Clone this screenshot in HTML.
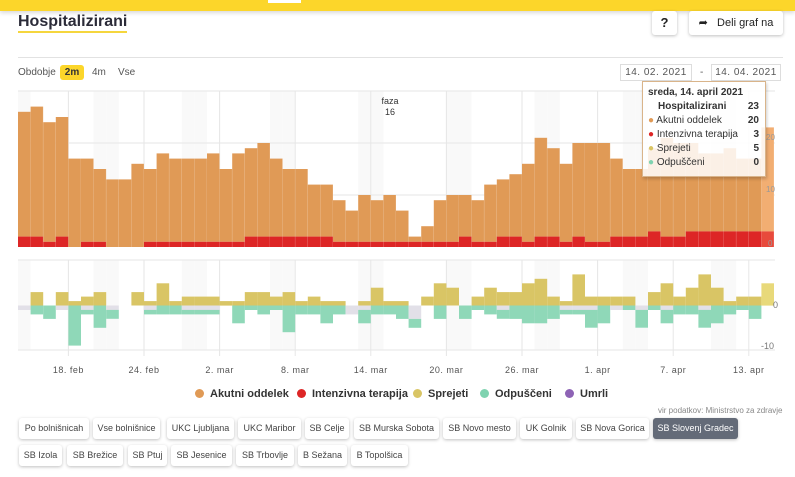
<!DOCTYPE html>
<html><head><meta charset="utf-8"><style>
*{margin:0;padding:0;box-sizing:border-box}
body{width:795px;height:477px;background:#fff;font-family:"Liberation Sans","DejaVu Sans",sans-serif;position:relative;overflow:hidden;color:#333}
.a{position:absolute}
.btn{position:absolute;height:21px;border-radius:3px;background:#fff;box-shadow:0 1px 3px rgba(0,0,0,.25);font-size:9px;color:#444;line-height:21px;text-align:center;white-space:nowrap;overflow:hidden}
.lg{position:absolute;top:388px;font-size:11px;font-weight:bold;color:#333;white-space:nowrap}
.lg i{display:inline-block;width:9px;height:9px;border-radius:50%;margin-right:6px;vertical-align:-1px}
.tt div{position:relative;height:14px}
</style></head><body>
<div class="a" style="left:0;top:0;width:795px;height:11px;background:#fcd62a;box-shadow:0 2px 4px rgba(0,0,0,.15)"></div>
<div class="a" style="left:268px;top:0;width:33px;height:3px;background:#fff"></div>
<div class="a" style="left:18px;top:13px;font-size:16px;font-weight:bold;color:#2b2b38;border-bottom:2px solid #f5d63d;line-height:18px">Hospitalizirani</div>
<div class="btn" style="left:652px;top:11px;width:25px;height:24px;line-height:24px;font-weight:bold;font-size:13px;color:#222">?</div>
<div class="btn" style="left:689px;top:11px;width:94px;height:24px;line-height:24px;font-size:11px;color:#222">➦&nbsp;&nbsp; Deli graf na</div>
<div class="a" style="left:18px;top:57px;width:765px;height:1px;background:#e2e2e2"></div>
<div class="a" style="left:18px;top:67px;font-size:10px;color:#555">Obdobje</div>
<div class="a" style="left:60px;top:65px;width:24px;height:15px;background:#fcd62a;border-radius:3px;font-size:10px;font-weight:bold;text-align:center;line-height:15px">2m</div>
<div class="a" style="left:92px;top:67px;font-size:10px;color:#555">4m</div>
<div class="a" style="left:118px;top:67px;font-size:10px;color:#555">Vse</div>
<div class="a" style="left:620px;top:64px;width:72px;height:17px;border:1px solid #ddd;font-size:10px;color:#555;text-align:center;line-height:15px;letter-spacing:.5px">14. 02. 2021</div>
<div class="a" style="left:700px;top:67px;font-size:10px;color:#555">-</div>
<div class="a" style="left:711px;top:64px;width:70px;height:17px;border:1px solid #ddd;font-size:10px;color:#555;text-align:center;line-height:15px;letter-spacing:.5px">14. 04. 2021</div>
<svg class="a" style="left:0;top:0" width="795" height="477" id="s"></svg>
<div class="a tt" style="left:642px;top:81px;width:124px;height:96px;background:rgba(255,255,255,.85);border:1px solid #d9b48a;box-shadow:1px 2px 3px rgba(0,0,0,.2);font-size:10px;padding:5px 6px 0 5px;color:#333">
<div style="font-weight:bold">sreda, 14. april 2021</div>
<div style="font-weight:bold;padding-left:10px">Hospitalizirani<span style="position:absolute;right:0">23</span></div>
<div><span style="color:#e09a56">●</span> Akutni oddelek<b style="position:absolute;right:0">20</b></div>
<div><span style="color:#dd2626">●</span> Intenzivna terapija<b style="position:absolute;right:0">3</b></div>
<div><span style="color:#d9c565">●</span> Sprejeti<b style="position:absolute;right:0">5</b></div>
<div><span style="color:#7fd3b0">●</span> Odpuščeni<b style="position:absolute;right:0">0</b></div>
</div>
<div class="lg" style="left:195px"><i style="background:#e09a56"></i>Akutni oddelek</div>
<div class="lg" style="left:297px"><i style="background:#dd2626"></i>Intenzivna terapija</div>
<div class="lg" style="left:413px"><i style="background:#d9c565"></i>Sprejeti</div>
<div class="lg" style="left:480px"><i style="background:#7fd3b0"></i>Odpuščeni</div>
<div class="lg" style="left:565px"><i style="background:#8e63b5"></i>Umrli</div>
<div class="a" style="left:658px;top:406px;font-size:8px;color:#888">vir podatkov: Ministrstvo za zdravje</div>
<div id="b"></div>
<script>
var s=document.getElementById('s'),h='';
function r(x,y,w,hh,c){if(hh<=0)return;h+='<rect x="'+x.toFixed(1)+'" y="'+y.toFixed(1)+'" width="'+w.toFixed(1)+'" height="'+hh.toFixed(1)+'" fill="'+c+'"/>';}
var W=12.6,X0=18;
for(var i=0;i<60;i++){var d=(i+6)%7; if(d==5||d==6){r(X0+i*W,91,W,155,'#f9f9f9');r(X0+i*W,260,W,90,'#f9f9f9');}}
for(var i=0;i<10;i++){var x=X0+(4+6*i)*W;h+='<line x1="'+x+'" y1="91" x2="'+x+'" y2="246" stroke="#e6e6e6"/><line x1="'+x+'" y1="260" x2="'+x+'" y2="356" stroke="#e6e6e6"/>';}
[143,195].forEach(function(y){h+='<line x1="18" y1="'+y+'" x2="775" y2="'+y+'" stroke="#e6e6e6"/>';});
h+='<line x1="18" y1="91" x2="775" y2="91" stroke="#e6e6e6"/><line x1="18" y1="260" x2="775" y2="260" stroke="#e6e6e6"/><line x1="18" y1="350" x2="775" y2="350" stroke="#e6e6e6"/>';
var tot=[26,27,24,25,17,17,15,13,13,16,15,18,17,17,17,18,15,18,19,20,17,15,15,12,12,9,7,10,9,10,7,2,4,9,10,10,9,12,13,14,16,21,19,16,20,20,20,17,15,15,19,21,20,20,18,18,19,17,17,23];
var icu=[2,2,1,2,0,1,1,0,0,0,1,1,1,1,1,1,1,1,2,2,2,2,2,2,2,1,1,1,1,1,1,1,1,1,1,2,1,1,2,2,1,2,2,1,2,1,1,2,2,2,3,2,2,3,3,3,3,3,3,3];
var U=5.2,Z=247;
for(var i=0;i<60;i++){var x=X0+i*W,op=i==59?'#f2ae72':'#e09a56',rc=i==59?'#e84a3c':'#dd2626';
r(x,Z-tot[i]*U,W,(tot[i]-icu[i])*U,op);r(x,Z-icu[i]*U,W,icu[i]*U,rc);
h+='<line x1="'+(x+W).toFixed(1)+'" y1="'+(Z-tot[i]*U)+'" x2="'+(x+W).toFixed(1)+'" y2="247" stroke="rgba(255,255,255,.35)" stroke-width="0.6"/>';}
var yel=[0,3,0,3,1,2,3,0,0,3,1,5,1,2,2,2,1,1,3,3,2,3,1,2,1,1,0,1,4,1,1,0,2,5,4,0,2,4,3,3,5,6,2,1,7,2,2,2,2,0,3,5,2,4,7,4,1,2,2,5];
var grn=[0,2,3,0,9,1,5,2,0,0,1,2,2,1,1,1,0,4,1,2,1,6,2,2,4,2,0,3,2,2,3,2,0,3,0,3,1,2,2,3,4,4,3,1,1,4,4,0,1,4,1,3,2,2,4,4,2,1,3,0];
var gry=[1,0,0,1,0,1,0,1,0,0,1,0,0,1,1,1,0,0,0,0,0,0,0,0,0,0,2,1,0,0,0,3,0,0,0,0,0,0,1,0,0,0,0,1,1,1,0,1,0,1,0,1,0,0,1,0,0,0,0,0];
var V=4.45,Z2=305.5;
for(var i=0;i<60;i++){var x=X0+i*W;r(x,Z2-yel[i]*V,W,yel[i]*V,i==59?'#e8d97a':'#d9c565');r(x,Z2,W,gry[i]*V,'#e2e0e8');r(x,Z2+gry[i]*V,W,grn[i]*V,'#8fd8b8');}
h+='<text x="766" y="140" font-size="8" fill="#999">20</text><text x="766" y="192" font-size="8" fill="#999">10</text><text x="768" y="246" font-size="8" fill="#999">0</text>';
h+='<text x="773" y="308" font-size="9" fill="#777">0</text><text x="761" y="349" font-size="9" fill="#777">-10</text>';
h+='<text x="390" y="104" font-size="9" fill="#333" text-anchor="middle">faza</text><text x="390" y="115" font-size="9" fill="#333" text-anchor="middle">16</text>';
var L=['18. feb','24. feb','2. mar','8. mar','14. mar','20. mar','26. mar','1. apr','7. apr','13. apr'];
for(var i=0;i<10;i++){h+='<text x="'+(X0+(4+6*i)*W).toFixed(1)+'" y="373" font-size="9" fill="#555" text-anchor="middle" letter-spacing=".5">'+L[i]+'</text>';}
s.innerHTML=h;
var B=[['Po bolnišnicah',19,418,70],['Vse bolnišnice',93,418,67],['UKC Ljubljana',167,418,67],['UKC Maribor',238,418,63],['SB Celje',305,418,44],['SB Murska Sobota',354,418,85],['SB Novo mesto',443,418,73],['UK Golnik',520,418,52],['SB Nova Gorica',576,418,73],['SB Slovenj Gradec',653,418,85],
['SB Izola',19,445,43],['SB Brežice',67,445,56],['SB Ptuj',128,445,39],['SB Jesenice',171,445,61],['SB Trbovlje',236,445,58],['B Sežana',298,445,49],['B Topolšica',351,445,57]];
var bh='';B.forEach(function(b,k){bh+='<div class="btn" style="left:'+b[1]+'px;top:'+b[2]+'px;width:'+b[3]+'px'+(k==9?';background:#646b78;color:#fff':'')+'">'+b[0]+'</div>';});
document.getElementById('b').innerHTML=bh;
</script>
</body></html>
